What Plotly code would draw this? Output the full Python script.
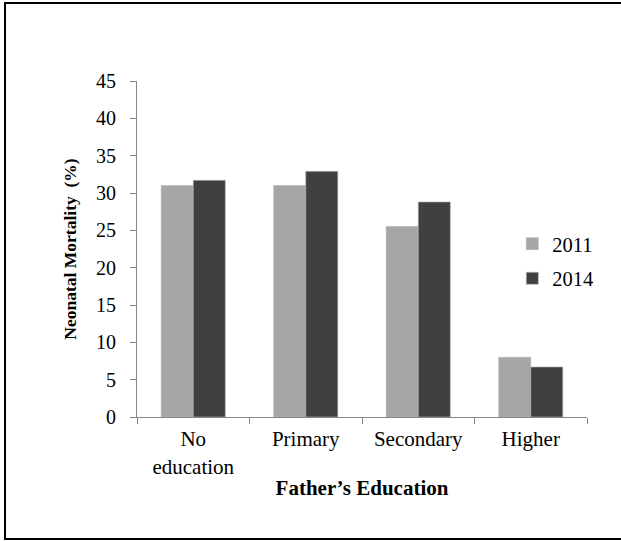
import plotly.graph_objects as go

# Neonatal mortality by father's education, two survey years
categories = ["No<br>education", "Primary", "Secondary", "Higher"]
years = ["2011", "2014"]
mortality_2011 = [31.0, 31.0, 25.5, 8.0]
mortality_2014 = [31.7, 32.9, 28.8, 6.7]
y_ticks = [0, 5, 10, 15, 20, 25, 30, 35, 40, 45]

colors = {"2011": "#A6A6A6", "2014": "#404040"}
series = {"2011": mortality_2011, "2014": mortality_2014}

FONT = "Liberation Serif, Times New Roman, serif"

fig = go.Figure()
for yr in years:
    fig.add_trace(go.Bar(
        x=categories,
        y=series[yr],
        name=yr,
        legendgroup=yr,
        marker=dict(color=colors[yr], line=dict(color="#B5B5B5", width=0.6)),
    ))

W, H = 621, 541
L, R, T, B = 137, 34, 81, 124

fig.update_layout(
    width=W, height=H,
    margin=dict(l=L, r=R, t=T, b=B, autoexpand=False),
    paper_bgcolor="white",
    plot_bgcolor="white",
    barmode="group",
    bargap=0.43,
    bargroupgap=0,
    font=dict(family=FONT, color="#000000", size=18),
    showlegend=True,
    legend=dict(
        x=0.834, y=0.575, xanchor="left", yanchor="top",
        font=dict(family=FONT, size=20.5, color="#000000"),
        bgcolor="rgba(0,0,0,0)",
        tracegroupgap=5,
        itemwidth=30,
    ),
    xaxis=dict(
        type="category",
        showline=True, linecolor="#868686", linewidth=1,
        ticks="outside", tickson="boundaries", ticklen=6, tickcolor="#868686",
        tickfont=dict(family=FONT, size=21, color="#000000"),
        ticklabelstandoff=3,
        showgrid=False,
        title=dict(text="<b>Father’s Education</b>",
                   font=dict(family=FONT, size=21, color="#000000"),
                   standoff=2),
        automargin=False,
    ),
    yaxis=dict(
        range=[0, 45],
        tickvals=y_ticks,
        showline=True, linecolor="#868686", linewidth=1,
        ticks="outside", ticklen=6, tickcolor="#868686",
        tickfont=dict(family=FONT, size=20, color="#000000"),
        ticklabelstandoff=10,
        showgrid=False,
        zeroline=False,
        title=dict(text="<b>Neonatal Mortality  (%)</b>",
                   font=dict(family=FONT, size=17.5, color="#000000"),
                   standoff=14),
        automargin=False,
    ),
)

# Outer frame around the whole figure
pw = W - L - R
ph = H - T - B
fig.add_shape(
    type="rect", xref="paper", yref="paper",
    x0=(5 - L) / pw, x1=(630 - L) / pw,
    y0=(H - B - 539) / ph, y1=(H - B - 3) / ph,
    line=dict(color="#000000", width=2),
    fillcolor="rgba(0,0,0,0)",
    layer="below",
)

fig.write_html("out.html")
